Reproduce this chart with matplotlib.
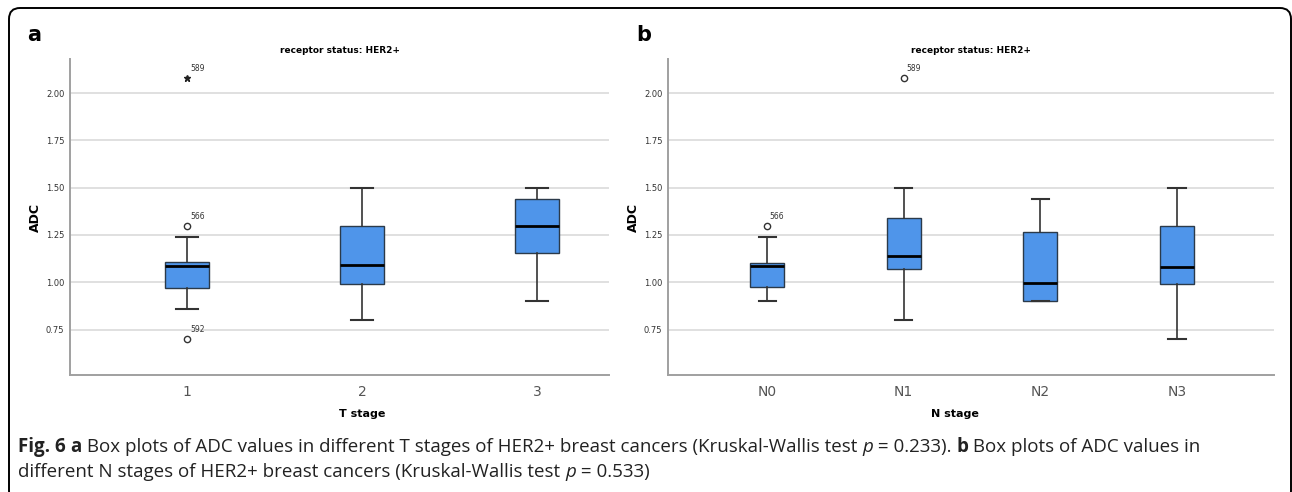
import matplotlib.pyplot as plt
from matplotlib.patches import FancyBboxPatch
from matplotlib.transforms import IdentityTransform

# panel a: T stage
t_stages = ["1", "2", "3"]
t_whislo = [0.86, 0.80, 0.90]
t_q1 = [0.97, 0.99, 1.155]
t_med = [1.085, 1.093, 1.30]
t_q3 = [1.105, 1.30, 1.44]
t_whishi = [1.24, 1.50, 1.50]
# outliers: (category index, value, case id, marker)
t_outliers = [(0, 1.30, "566", "o"), (0, 0.70, "592", "o"), (0, 2.08, "589", "*")]

# panel b: N stage
n_stages = ["N0", "N1", "N2", "N3"]
n_whislo = [0.90, 0.80, 0.90, 0.70]
n_q1 = [0.977, 1.07, 0.90, 0.99]
n_med = [1.085, 1.14, 0.997, 1.08]
n_q3 = [1.10, 1.34, 1.265, 1.30]
n_whishi = [1.24, 1.50, 1.44, 1.50]
n_outliers = [(0, 1.30, "566", "o"), (1, 2.08, "589", "o")]

yticks = [0.75, 1.00, 1.25, 1.50, 1.75, 2.00]

W, H = 1292, 492
fig = plt.figure(figsize=(W / 100, H / 100), dpi=100)

# rounded frame, in pixels (x 9..1291, top at 8 px from the top)
frame = FancyBboxPatch((9, -10), 1282, H - 8 + 10,
                       boxstyle="round,pad=0,rounding_size=11",
                       transform=IdentityTransform(), fill=False,
                       edgecolor="black", linewidth=1.4)
fig.patches.append(frame)


def draw_panel(rect, cats, lo, q1, med, q3, hi, outs, xlim, xlabel, xlab_pos, letter, letter_x):
    ax = fig.add_axes(rect)
    stats = []
    for i in range(len(cats)):
        stats.append(dict(whislo=lo[i], q1=q1[i], med=med[i], q3=q3[i],
                          whishi=hi[i], fliers=[], label=cats[i]))
    ax.bxp(stats, positions=range(len(cats)), widths=0.25, capwidths=0.125,
           patch_artist=True, showfliers=False,
           boxprops=dict(facecolor="#4f95ea", edgecolor="#2b3a4a", linewidth=1.0),
           medianprops=dict(color="black", linewidth=2.0),
           whiskerprops=dict(color="#333333", linewidth=1.2),
           capprops=dict(color="#333333", linewidth=1.5))
    for idx, val, case, mk in outs:
        if mk == "o":
            ax.plot(idx, val, marker="o", markersize=4.5, markerfacecolor="white",
                    markeredgecolor="#333333", markeredgewidth=1.0, linestyle="none")
        else:
            ax.plot(idx, val, marker="*", markersize=4.5, color="#222222", linestyle="none")
        ax.annotate(case, (idx, val), xytext=(2, 5), textcoords="offset points",
                    fontsize=5.5, color="#333333")
    ax.set_xlim(*xlim)
    ax.set_ylim(0.51, 2.18)
    ax.set_yticks(yticks)
    ax.set_yticklabels(["%.2f" % v for v in yticks])
    ax.yaxis.grid(True, color="#dddddd", linewidth=1.3)
    ax.set_axisbelow(True)
    for s in ["top", "right"]:
        ax.spines[s].set_visible(False)
    for s in ["left", "bottom"]:
        ax.spines[s].set_color("#a0a0a0")
        ax.spines[s].set_linewidth(1.4)
    ax.tick_params(axis="y", length=0, pad=4, labelsize=6, labelcolor="#333333")
    ax.tick_params(axis="x", length=0, pad=7, labelsize=10, labelcolor="#555555")
    ax.set_title("receptor status: HER2+", fontsize=6.5, fontweight="bold", pad=4)
    ax.set_ylabel("ADC", fontsize=9, fontweight="bold", labelpad=3)
    ax.set_xlabel(xlabel, fontsize=8, fontweight="bold")
    ax.xaxis.set_label_coords(xlab_pos, -0.107)
    fig.text(letter_x / W, 1 - 35 / H, letter, fontsize=15, fontweight="bold",
             va="center", ha="left")
    return ax


draw_panel([70 / W, 117 / H, 539 / W, 316 / H], t_stages, t_whislo, t_q1, t_med, t_q3,
           t_whishi, t_outliers, (-0.669, 2.41), "T stage", 0.542, "a", 27)
draw_panel([668 / W, 117 / H, 606 / W, 316 / H], n_stages, n_whislo, n_q1, n_med, n_q3,
           n_whishi, n_outliers, (-0.725, 3.71), "N stage", 0.474, "b", 636)

# caption made of styled runs
line1 = [("Fig. 6 ", "bold", "normal"), ("a", "bold", "normal"),
         (" Box plots of ADC values in different T stages of HER2+ breast cancers "
          "(Kruskal-Wallis test ", "normal", "normal"),
         ("p", "normal", "italic"), (" = 0.233). ", "normal", "normal"),
         ("b", "bold", "normal"), (" Box plots of ADC values in", "normal", "normal")]
line2 = [("different N stages of HER2+ breast cancers (Kruskal-Wallis test ", "normal", "normal"),
         ("p", "normal", "italic"), (" = 0.533)", "normal", "normal")]

renderer = fig.canvas.get_renderer()
for runs, ypix in [(line1, 447), (line2, 472)]:
    x = 18
    for txt, weight, style in runs:
        t = fig.text(x / W, 1 - ypix / H, txt, fontsize=13.5, family="Open Sans",
                     fontweight=weight, fontstyle=style, color="#222222",
                     va="center", ha="left")
        bb = t.get_window_extent(renderer)
        x += bb.width

fig.savefig("out.png", dpi=100)
